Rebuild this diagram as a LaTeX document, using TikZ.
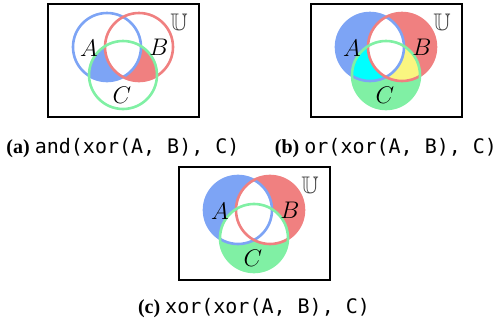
\documentclass[tikz,border=0pt]{standalone}
\usepackage{amssymb}
\usepackage{fontspec}
\setmainfont{Liberation Serif}
\setmonofont{DejaVu Sans Mono}
\definecolor{setA}{RGB}{125,164,245}
\definecolor{setB}{RGB}{240,128,128}
\definecolor{setC}{RGB}{128,240,164}
\definecolor{setAC}{RGB}{0,255,255}
\definecolor{setBC}{RGB}{250,245,128}
\tikzset{
    venn/.style={line width=1.3pt},
    frame/.style={draw, line width=0.8pt},
    setlabel/.style={font=\fontsize{12}{14}\selectfont},
    caption/.style={font=\fontsize{10}{12}\selectfont},
}
\def\circA{(59,43) circle [radius=17pt]}
\def\circB{(91,43) circle [radius=17pt]}
\def\circC{(75,71) circle [radius=17pt]}
\begin{document}
\begin{tikzpicture}[x=0.5pt, y=-0.5pt]
        \useasboundingbox (0,0) rectangle (495,327);
        % (a) and
            \begin{scope}[shift={(48,4)}]
                \clip \circC;
                \fill[setA] \circA;
                \fill[setB] \circB;
                \clip \circA;
                \fill[white] \circB;
            \end{scope}
        % (b) or
            \begin{scope}[shift={(311,4)}]
                \fill[setA] \circA;
                \fill[setB] \circB;
                \fill[setC] \circC;
                \begin{scope}
                    \clip \circA; \clip \circC;
                    \fill[setAC] \circA;
                \end{scope}
                \begin{scope}
                    \clip \circB; \clip \circC;
                    \fill[setBC] \circB;
                \end{scope}
                \clip \circA;
                \fill[white] \circB;
            \end{scope}
        % (c) xor
            \begin{scope}[shift={(179,167)}]
                \fill[setA] \circA;
                \fill[setB] \circB;
                \fill[setC] \circC;
                \begin{scope}\clip \circA; \fill[white] \circB; \fill[white] \circC;\end{scope}
                \begin{scope}\clip \circB; \fill[white] \circC;\end{scope}
            \end{scope}
        % outlines, frames and labels
            \foreach \p/\px/\py/\cy/\op in {a/48/4/144/and, b/311/4/144/or, c/179/167/141/xor}{
                \begin{scope}[shift={(\px,\py)}]
                    \draw[venn, setA] \circA;
                    \draw[venn, setB] \circB;
                    \draw[venn, setC] \circC;
                    \draw[frame] (0,0) rectangle (151,113);
                    \node[setlabel] (A\p) at (41,44) {$A$};
                    \node[setlabel] (B\p) at (111,43) {$B$};
                    \node[setlabel] (C\p) at (74,91) {$C$};
                    \node[setlabel, black!75] (U\p) at (131,18) {$\mathbb{U}$};
                    \node[caption] (cap\p) at (75,\cy) {\textbf{(\p)} \texttt{\op(xor(A, B), C)}};
                \end{scope}
            }
        \end{tikzpicture}
\end{document}
